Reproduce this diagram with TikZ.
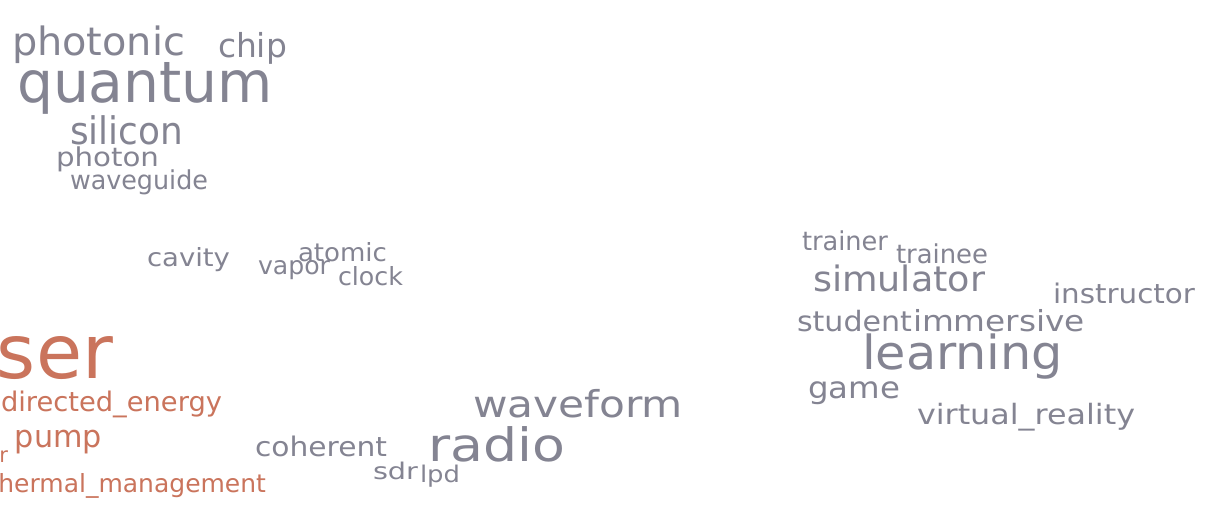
\documentclass[tikz,border=0pt]{standalone}
\usepackage{fontspec}
\setmainfont{DejaVu Sans}
\usepackage{graphicx}
\definecolor{wgray}{RGB}{132,132,146}
\definecolor{worange}{RGB}{202,116,92}
\tikzset{
  wc/.style={anchor=base west, inner sep=0pt, outer sep=0pt, text=wgray},
  wco/.style={wc, text=worange},
}
% \wcw{style}{name}{x,y}{font size}{width}{text}
\newcommand{\wcw}[6]{\node[#1] (#2) at (#3) {\fontsize{#4}{#4}\selectfont\resizebox{#5pt}{\height}{#6}};}
\begin{document}
\begin{tikzpicture}[x=1pt,y=-1pt]
\useasboundingbox (0,0) rectangle (1220,518);
\fill[white] (0,0) rectangle (1220,518);
\clip (0,0) rectangle (1220,518);
% top-left cluster
\wcw{wc}{photonic}{12,56}{39}{173}{photonic}
\wcw{wc}{chip}{218,58}{33}{69}{chip}
\wcw{wc}{quantum}{17,103}{57}{256}{quantum}
\wcw{wc}{silicon}{70,145}{38}{113}{silicon}
\wcw{wc}{photon}{56,167}{26}{103}{photon}
\wcw{wc}{waveguide}{70,190}{26}{138}{waveguide}
% middle-left cluster
\wcw{wc}{cavity}{147,267}{25}{83}{cavity}
\wcw{wc}{atomic}{298,262}{25}{89}{atomic}
\wcw{wc}{vapor}{258,275}{25}{72}{vapor}
\wcw{wc}{clock}{338,286}{25}{65}{clock}
% bottom-middle cluster
\wcw{wc}{waveform}{473,417}{37}{210}{waveform}
\wcw{wc}{radio}{428,461}{46}{137}{radio}
\wcw{wc}{coherent}{255,456}{27}{132}{coherent}
\wcw{wc}{sdr}{373,479}{23}{45}{sdr}
\wcw{wc}{lpd}{420,482}{23}{40}{lpd}
% right cluster
\wcw{wc}{trainer}{802,251}{26}{86}{trainer}
\wcw{wc}{trainee}{896,264}{26}{92}{trainee}
\wcw{wc}{simulator}{813,292}{35}{172}{simulator}
\wcw{wc}{instructor}{1053,304}{27}{142}{instructor}
\wcw{wc}{student}{797,331}{28}{115}{student}
\wcw{wc}{immersive}{913,332}{29}{172}{immersive}
\wcw{wc}{learning}{862,369}{47}{201}{learning}
\wcw{wc}{game}{808,398}{30}{92}{game}
\wcw{wc}{virtual}{917,424}{28}{218}{virtual\_reality}
% orange cluster (clipped at left edge)
\node[wco, anchor=base east] (laser) at (113,378) {\fontsize{75}{75}\selectfont laser};
\wcw{wco}{directed}{1,411}{27}{221}{directed\_energy}
\wcw{wco}{pump}{15,447}{31}{87}{pump}
\node[wco, anchor=base east] (rfrag) at (8,462) {\fontsize{21}{21}\selectfont r};
\node[wco, anchor=base east] (thermal) at (266,492) {\fontsize{25}{25}\selectfont thermal\_management};
\end{tikzpicture}
\end{document}
